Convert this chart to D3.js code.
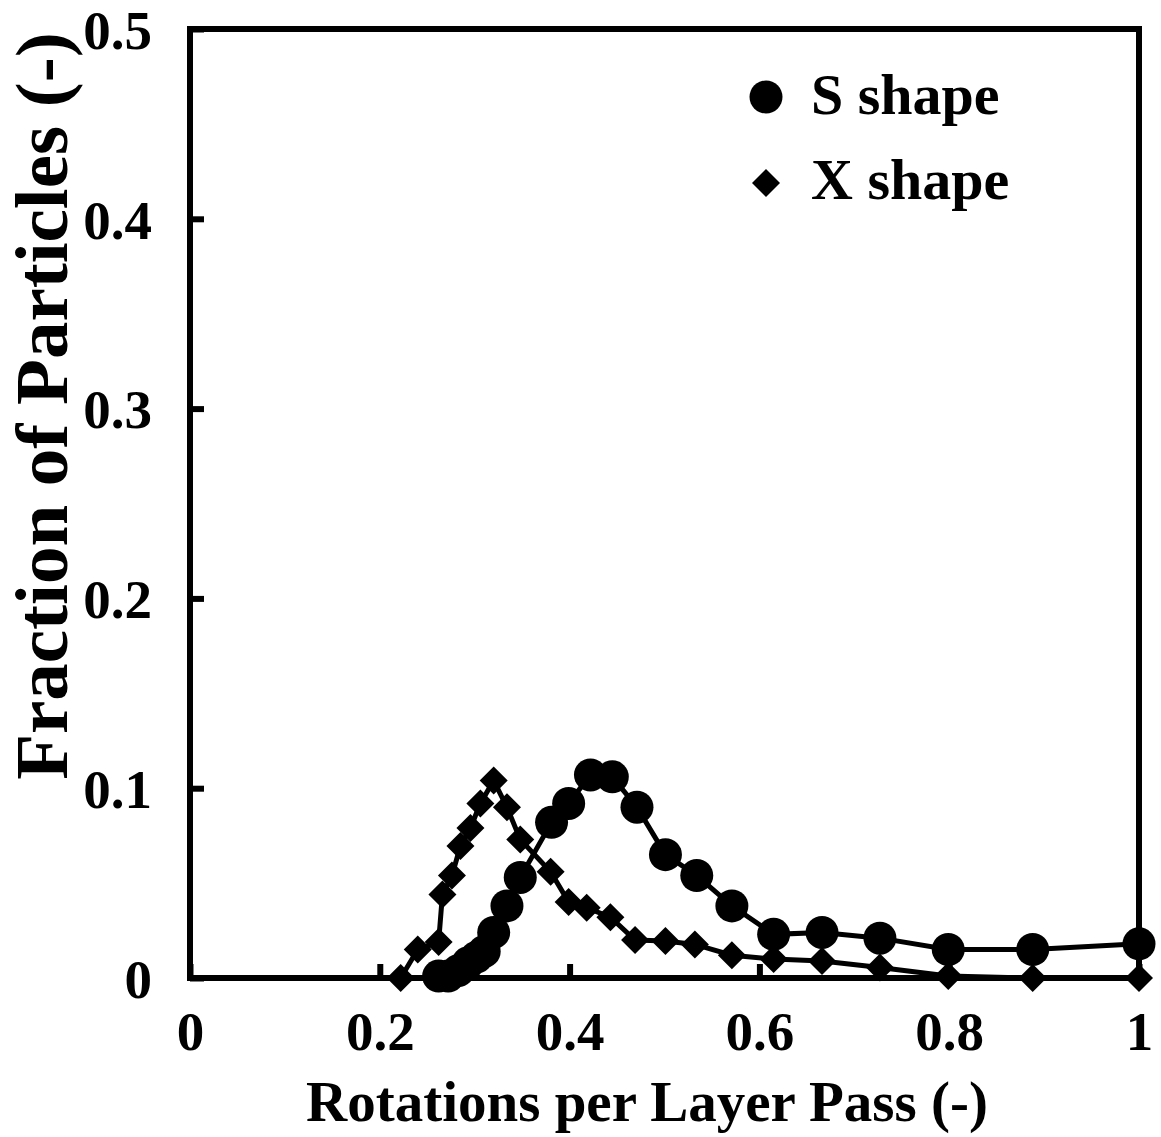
<!DOCTYPE html>
<html>
<head>
<meta charset="utf-8">
<script src="https://cdn.jsdelivr.net/npm/d3@7"></script>
<style>
  body { margin: 0; background: #fff; }
  text { font-family: "Liberation Serif", "Times New Roman", serif; font-weight: bold; fill: #000; }
</style>
</head>
<body>
<div id="chart"></div>
<script>
// data
var sX = [0.262, 0.272, 0.283, 0.293, 0.302, 0.310, 0.320, 0.334, 0.348, 0.381, 0.399, 0.422, 0.445, 0.471, 0.501, 0.534, 0.571, 0.615, 0.666, 0.727, 0.799, 0.888, 1.0];
var sY = [0.001, 0.001, 0.004, 0.008, 0.011, 0.014, 0.024, 0.038, 0.053, 0.082, 0.092, 0.107, 0.106, 0.090, 0.065, 0.054, 0.038, 0.023, 0.024, 0.021, 0.015, 0.015, 0.018];
var xX = [0.222, 0.240, 0.262, 0.266, 0.276, 0.285, 0.2955, 0.306, 0.320, 0.334, 0.348, 0.380, 0.399, 0.418, 0.443, 0.469, 0.501, 0.532, 0.571, 0.615, 0.666, 0.727, 0.799, 0.888, 1.0];
var xY = [0.0, 0.015, 0.019, 0.044, 0.054, 0.0695, 0.079, 0.092, 0.104, 0.090, 0.073, 0.056, 0.040, 0.037, 0.032, 0.020, 0.0195, 0.0177, 0.012, 0.010, 0.009, 0.0055, 0.001, 0.0, 0.0];
var xTicks = [0, 0.2, 0.4, 0.6, 0.8, 1];
var yTicks = [0, 0.1, 0.2, 0.3, 0.4, 0.5];
var legendNames = ["S shape", "X shape"];

var svgWidth = 1161;
var svgHeight = 1137;
var margin = { top: 29, right: 22, bottom: 159, left: 190 };
var width = 1139 - margin.left;
var height = 978 - margin.top;

var svg = d3.select("#chart")
    .append("svg")
    .attr("width", svgWidth)
    .attr("height", svgHeight);

var chartGroup = svg.append("g")
    .attr("transform", `translate(${margin.left}, ${margin.top})`);

var xScale = d3.scaleLinear().domain([0, 1]).range([0, width]);
var yScale = d3.scaleLinear().domain([0, 0.5]).range([height, 0]);

// axes, ticks point inward
var bottomAxis = d3.axisBottom(xScale).tickValues(xTicks).tickSize(-14)
    .tickFormat(d => d === 0 ? "0" : (d === 1 ? "1" : d3.format(".1f")(d)));
var leftAxis = d3.axisLeft(yScale).tickValues(yTicks).tickSize(-14)
    .tickFormat(d => d === 0 ? "0" : d3.format(".1f")(d));

var xg = chartGroup.append("g")
    .attr("transform", `translate(0, ${height})`)
    .call(bottomAxis);
xg.selectAll("text").attr("dy", null).attr("y", 72).style("font-size", "55px");

var yg = chartGroup.append("g").call(leftAxis);
yg.selectAll("text").attr("x", -38).attr("dy", "0.35em").style("font-size", "55px");

[xg, yg].forEach(function(g) {
    g.select(".domain").remove();
    g.selectAll(".tick line").attr("stroke", "#000").attr("stroke-width", 6);
});

// frame
chartGroup.append("rect")
    .attr("width", width)
    .attr("height", height)
    .attr("fill", "none")
    .attr("stroke", "#000")
    .attr("stroke-width", 6);

var sData = sX.map((d, i) => ({ x: d, y: sY[i] }));
var xData = xX.map((d, i) => ({ x: d, y: xY[i] }));

var line = d3.line().x(d => xScale(d.x)).y(d => yScale(d.y));

chartGroup.append("path").datum(xData)
    .attr("d", line).attr("fill", "none").attr("stroke", "#000").attr("stroke-width", 5);
chartGroup.append("path").datum(sData)
    .attr("d", line).attr("fill", "none").attr("stroke", "#000").attr("stroke-width", 5);

var diamond = d3.symbol().type(d3.symbolDiamond2).size(500);

chartGroup.selectAll(".xpt")
    .data(xData)
    .enter()
    .append("path")
    .attr("class", "xpt")
    .attr("transform", d => `translate(${xScale(d.x)}, ${yScale(d.y)})`)
    .attr("d", diamond)
    .attr("fill", "#000");

chartGroup.selectAll(".spt")
    .data(sData)
    .enter()
    .append("circle")
    .attr("class", "spt")
    .attr("cx", d => xScale(d.x))
    .attr("cy", d => yScale(d.y))
    .attr("r", 16.5)
    .attr("fill", "#000");

// legend
svg.append("circle").attr("cx", 766).attr("cy", 97).attr("r", 16.5).attr("fill", "#000");
svg.append("path").attr("transform", "translate(766, 183)")
    .attr("d", diamond).attr("fill", "#000");
svg.append("text").attr("x", 811).attr("y", 114).style("font-size", "58px").text(legendNames[0]);
svg.append("text").attr("x", 811).attr("y", 199).style("font-size", "58px").text(legendNames[1]);

// axis labels
svg.append("text")
    .attr("x", 647)
    .attr("y", 1121)
    .attr("text-anchor", "middle")
    .style("font-size", "57px")
    .text("Rotations per Layer Pass (-)");

svg.append("text")
    .attr("transform", "translate(67, 406) rotate(-90)")
    .attr("text-anchor", "middle")
    .style("font-size", "75px")
    .text("Fraction of Particles (-)");
</script>
</body>
</html>
